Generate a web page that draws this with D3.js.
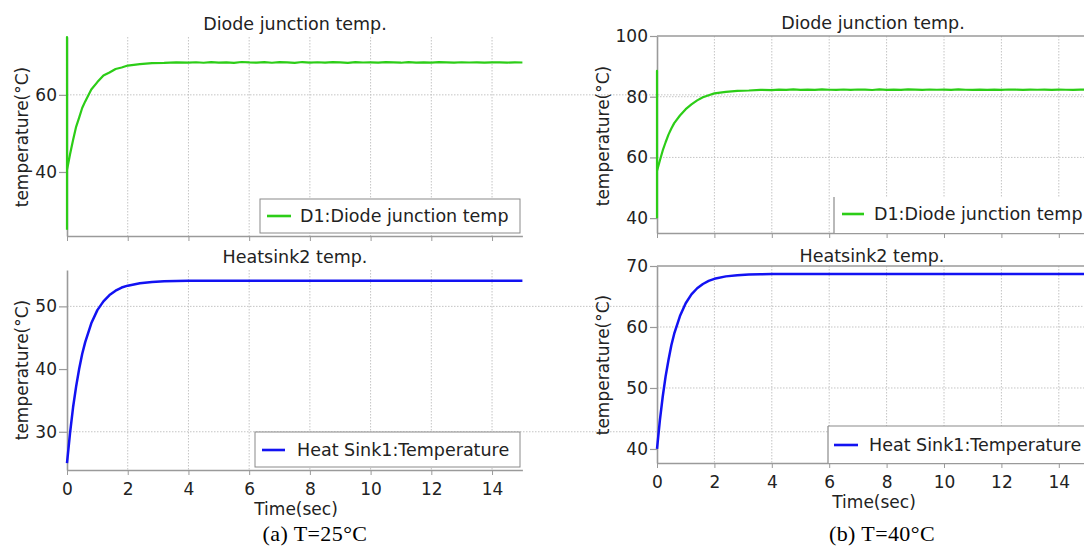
<!DOCTYPE html>
<html>
<head>
<meta charset="utf-8">
<script src="https://cdn.jsdelivr.net/npm/d3@7"></script>
<style>
  body { margin: 0; background: #fff; }
  svg { display: block; }
  text { font-family: "DejaVu Sans", Verdana, sans-serif; fill: #222; }
</style>
</head>
<body>
<svg id="chart" width="1084" height="548"></svg>
<script>
// ---- data -------------------------------------------------------------
const timeTicks = [0, 2, 4, 6, 8, 10, 12, 14];

// sample instants of the warm-up phase
const riseTimes = [0, 0.1, 0.2, 0.3, 0.4, 0.5, 0.6, 0.8, 1.0, 1.2, 1.4, 1.6, 1.8, 2.0, 2.4, 2.8, 3.2, 3.6, 4.0];
// fine sampling of the settled (noisy) junction signal
const plateauTimes = [4.25, 4.5, 4.75, 5, 5.25, 5.5, 5.75, 6, 6.25, 6.5, 6.75, 7, 7.25, 7.5, 7.75, 8,
  8.25, 8.5, 8.75, 9, 9.25, 9.5, 9.75, 10, 10.25, 10.5, 10.75, 11, 11.25, 11.5, 11.75, 12,
  12.25, 12.5, 12.75, 13, 13.25, 13.5, 13.75, 14, 14.25, 14.5, 14.75, 15];
// coarse sampling of the settled heat-sink signal
const tailTimes = [5, 6, 7, 8, 9, 10, 11, 12, 13, 14, 15];
// solver start-up transient at t = 0
const spikeTimes = [0, 0];

// T = 25°C : diode junction
const diodeSpikeA = [25, 75];
const diodeRiseA = [40.5, 44.6, 48.3, 51.7, 54.1, 56.6, 58.3, 61.4, 63.3, 65.0, 65.8, 66.7, 67.1, 67.6, 67.95, 68.25, 68.3, 68.42, 68.36];
const diodePlateauA = [68.45, 68.32, 68.50, 68.38, 68.44, 68.30, 68.52, 68.41, 68.36, 68.48,
  68.33, 68.46, 68.40, 68.29, 68.51, 68.37, 68.45, 68.34, 68.49, 68.42,
  68.31, 68.47, 68.39, 68.44, 68.35, 68.50, 68.40, 68.33, 68.46, 68.38,
  68.43, 68.36, 68.48, 68.41, 68.34, 68.45, 68.39, 68.42, 68.37, 68.44,
  68.40, 68.36, 68.42, 68.39];

// T = 25°C : heat sink
const sinkRiseA = [25, 29.8, 33.9, 37.2, 40.0, 42.4, 44.3, 47.3, 49.4, 50.8, 51.8, 52.5, 53.0, 53.3, 53.7, 53.9, 54.0, 54.05, 54.08];
const sinkTailA = [54.1, 54.1, 54.1, 54.1, 54.1, 54.1, 54.1, 54.1, 54.1, 54.1, 54.1];

// T = 40°C : diode junction
const diodeSpikeB = [40, 88.5];
const diodeRiseB = [55.5, 59.0, 62.3, 65.0, 67.5, 69.5, 71.3, 73.8, 75.9, 77.5, 78.8, 79.8, 80.5, 81.1, 81.6, 81.95, 82.05, 82.25, 82.2];
const diodePlateauB = [82.36, 82.24, 82.40, 82.28, 82.35, 82.22, 82.41, 82.30, 82.26, 82.38,
  82.25, 82.37, 82.31, 82.21, 82.40, 82.27, 82.35, 82.24, 82.39, 82.32,
  82.23, 82.37, 82.29, 82.34, 82.26, 82.40, 82.30, 82.24, 82.36, 82.28,
  82.33, 82.26, 82.38, 82.31, 82.25, 82.35, 82.29, 82.32, 82.27, 82.34,
  82.30, 82.26, 82.32, 82.29];

// T = 40°C : heat sink
const sinkRiseB = [40, 44.7, 48.6, 51.9, 54.6, 57.0, 58.9, 61.8, 63.9, 65.35, 66.35, 67.05, 67.55, 67.9, 68.3, 68.5, 68.6, 68.65, 68.68];
const sinkTailB = [68.7, 68.7, 68.7, 68.7, 68.7, 68.7, 68.7, 68.7, 68.7, 68.7, 68.7];

const diodeTimes = spikeTimes.concat(riseTimes, plateauTimes);
const sinkTimes = riseTimes.concat(tailTimes);
const zipSeries = (ts, vs) => ts.map((t, i) => ({ t, v: vs[i] }));

const GREEN = "#2ccd17";
const BLUE = "#1212f2";
const AXIS = "#9a9a9a";
const GRID = "#c4c4c4";
const FS = 17.5;

// ---- panel layout -----------------------------------------------------
const panels = [
  { title: "Diode junction temp.", titleX: 295, titleY: 30,
    x0: 67, x1: 522.4, yTop: 37, yBottom: 236, yDomain: [23.4, 75],
    yTicks: [40, 60], grid: [60], box: false, xLabels: false,
    tickLen: 8, tickPad: 2, ylabX: 22, ylabY: 137,
    series: zipSeries(diodeTimes, diodeSpikeA.concat(diodeRiseA, diodePlateauA)),
    color: GREEN, width: 2.2, legend: "D1:Diode junction temp",
    lg: { x: 260, y: 199, w: 260, h: 34, edges: "full", lx0: 267, lx1: 291, ly: 216, tx: 300, ty: 222 } },
  { title: "Heatsink2 temp.", titleX: 295, titleY: 263,
    x0: 67, x1: 522.4, yTop: 270, yBottom: 470, yDomain: [23.9, 55.8],
    yTicks: [30, 40, 50], grid: [30, 50], box: false, xLabels: true,
    tickLen: 8, tickPad: 2, ylabX: 22, ylabY: 370, xLabY: 495, timeX: 296, timeY: 515,
    series: zipSeries(sinkTimes, sinkRiseA.concat(sinkTailA)),
    color: BLUE, width: 2.5, legend: "Heat Sink1:Temperature",
    lg: { x: 255, y: 432, w: 265, h: 35, edges: "full", lx0: 262, lx1: 285, ly: 450, tx: 297, ty: 456 } },
  { title: "Diode junction temp.", titleX: 873, titleY: 29,
    x0: 657, x1: 1087.5, yTop: 36, yBottom: 233, yDomain: [35.1, 100],
    yTicks: [40, 60, 80, 100], grid: [60, 80], box: true, xLabels: false,
    tickLen: 7, tickPad: 2, ylabX: 603, ylabY: 136,
    series: zipSeries(diodeTimes, diodeSpikeB.concat(diodeRiseB, diodePlateauB)),
    color: GREEN, width: 2.2, legend: "D1:Diode junction temp",
    lg: { x: 834, y: 197, w: 260, h: 36, edges: "left", lx0: 842, lx1: 864, ly: 214, tx: 874, ty: 220 } },
  { title: "Heatsink2 temp.", titleX: 872, titleY: 262,
    x0: 657, x1: 1087.5, yTop: 266, yBottom: 463, yDomain: [37.7, 70],
    yTicks: [40, 50, 60, 70], grid: [50, 60], box: true, xLabels: true,
    tickLen: 7, tickPad: 2, ylabX: 603, ylabY: 365, xLabY: 488, timeX: 874, timeY: 508,
    series: zipSeries(sinkTimes, sinkRiseB.concat(sinkTailB)),
    color: BLUE, width: 2.5, legend: "Heat Sink1:Temperature",
    lg: { x: 828, y: 426, w: 270, h: 37, edges: "lefttop", lx0: 834, lx1: 858, ly: 445, tx: 869, ty: 451 } }
];

const captions = [
  { text: "(a) T=25°C", x: 315, y: 541 },
  { text: "(b) T=40°C", x: 882, y: 541 }
];

// ---- drawing ----------------------------------------------------------
const svg = d3.select("#chart");
svg.append("rect").attr("width", 1084).attr("height", 548).attr("fill", "#fff");

panels.forEach(p => {
  const g = svg.append("g");
  const x = d3.scaleLinear().domain([0, 15]).range([p.x0, p.x1]);
  const y = d3.scaleLinear().domain(p.yDomain).range([p.yBottom, p.yTop]);

  // dotted grid
  g.append("g").selectAll("line").data(timeTicks.filter(t => t > 0)).join("line")
    .attr("x1", d => x(d)).attr("x2", d => x(d))
    .attr("y1", p.yTop).attr("y2", p.yBottom)
    .attr("stroke", GRID).attr("stroke-width", 1).attr("stroke-dasharray", "1.5,1.5");
  g.append("g").selectAll("line").data(p.grid).join("line")
    .attr("x1", p.x0).attr("x2", 1084)
    .attr("y1", d => y(d)).attr("y2", d => y(d))
    .attr("stroke", GRID).attr("stroke-width", 1).attr("stroke-dasharray", "1.5,1.5");

  // x axis
  const xAxis = d3.axisBottom(x).tickValues(timeTicks).tickSize(5).tickSizeOuter(0)
    .tickPadding(6).tickFormat(p.xLabels ? d3.format("d") : () => "");
  const gx = g.append("g").attr("transform", `translate(0,${p.yBottom})`).call(xAxis);
  gx.select(".domain").attr("stroke", AXIS).attr("stroke-width", 1.6);
  gx.selectAll(".tick line").attr("stroke", AXIS).attr("stroke-width", 1);
  gx.selectAll(".tick text").attr("font-size", 17).attr("fill", "#222")
    .attr("font-family", "DejaVu Sans, sans-serif")
    .attr("y", null).attr("dy", null)
    .attr("transform", `translate(0,${(p.xLabY || 0) - p.yBottom})`);

  // y axis
  const yAxis = d3.axisLeft(y).tickValues(p.yTicks).tickSize(p.tickLen).tickSizeOuter(0)
    .tickPadding(p.tickPad).tickFormat(d3.format("d"));
  const gy = g.append("g").attr("transform", `translate(${p.x0},0)`).call(yAxis);
  gy.select(".domain").attr("stroke", AXIS).attr("stroke-width", 1.6);
  gy.selectAll(".tick line").attr("stroke", AXIS).attr("stroke-width", 1.2);
  gy.selectAll(".tick text").attr("font-size", 17).attr("fill", "#222")
    .attr("font-family", "DejaVu Sans, sans-serif");

  if (p.box) {
    g.append("line").attr("x1", p.x0).attr("x2", 1084).attr("y1", p.yTop).attr("y2", p.yTop)
      .attr("stroke", AXIS).attr("stroke-width", 1.6);
  }

  // legend
  const L = p.lg;
  g.append("rect").attr("x", L.x).attr("y", L.y).attr("width", L.w).attr("height", L.h)
    .attr("fill", "#fff").attr("stroke", L.edges === "full" ? "#8a8a8a" : "none").attr("stroke-width", 1);
  if (L.edges !== "full") {
    g.append("line").attr("x1", L.x).attr("x2", L.x).attr("y1", L.y).attr("y2", L.y + L.h)
      .attr("stroke", "#8a8a8a").attr("stroke-width", 1.2);
  }
  if (L.edges === "lefttop") {
    g.append("line").attr("x1", L.x).attr("x2", 1084).attr("y1", L.y).attr("y2", L.y)
      .attr("stroke", "#8a8a8a").attr("stroke-width", 1.2);
  }
  g.append("line").attr("x1", L.lx0).attr("x2", L.lx1).attr("y1", L.ly).attr("y2", L.ly)
    .attr("stroke", p.color).attr("stroke-width", 2.6);
  g.append("text").attr("x", L.tx).attr("y", L.ty).attr("font-size", FS).text(p.legend);

  // data line
  const line = d3.line().x(d => x(d.t)).y(d => y(d.v));
  g.append("path").datum(p.series).attr("d", line)
    .attr("fill", "none").attr("stroke", p.color).attr("stroke-width", p.width)
    .attr("stroke-linejoin", "round");

  // titles and labels
  g.append("text").attr("x", p.titleX).attr("y", p.titleY).attr("text-anchor", "middle")
    .attr("font-size", FS).text(p.title);
  g.append("text").attr("transform", `translate(${p.ylabX},${p.ylabY}) rotate(-90)`)
    .attr("text-anchor", "middle").attr("dy", "0.35em").attr("font-size", 17)
    .text("temperature(°C)");
  if (p.xLabels) {
    g.append("text").attr("x", p.timeX).attr("y", p.timeY).attr("text-anchor", "middle")
      .attr("font-size", 17).text("Time(sec)");
  }
});

svg.selectAll(".caption").data(captions).join("text").attr("class", "caption")
  .attr("x", d => d.x).attr("y", d => d.y).attr("text-anchor", "middle")
  .style("font-family", "'Liberation Serif', 'Times New Roman', serif")
  .style("fill", "#000").attr("font-size", 22).attr("letter-spacing", 0.4)
  .text(d => d.text);
</script>
</body>
</html>
